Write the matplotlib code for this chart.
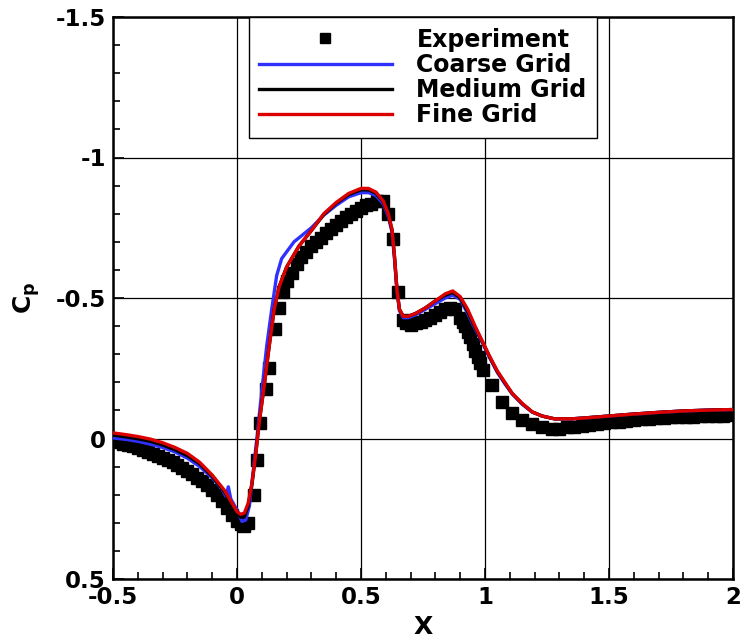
import matplotlib
matplotlib.use("Agg")
import matplotlib.pyplot as plt
from matplotlib.ticker import MultipleLocator

plt.rcParams['font.family'] = ['DejaVu Sans']
plt.rcParams['font.weight'] = 'bold'
plt.rcParams['mathtext.fontset'] = 'dejavusans'

# ---------------- data ----------------
exp_x = [-0.50, -0.48, -0.46, -0.44, -0.42, -0.40, -0.38, -0.36, -0.34, -0.32,
         -0.30, -0.28, -0.26, -0.24, -0.22, -0.20, -0.18, -0.16, -0.14, -0.12,
         -0.10, -0.08, -0.06, -0.04, -0.02, 0.00, 0.015, 0.03, 0.045, 0.07,
         0.08, 0.092, 0.115, 0.13, 0.155, 0.17, 0.185,
         0.20, 0.22, 0.24, 0.26, 0.28, 0.30, 0.32, 0.34, 0.36, 0.38,
         0.40, 0.42, 0.44, 0.46, 0.48, 0.50, 0.52, 0.54, 0.565, 0.59,
         0.61, 0.63, 0.65, 0.668,
         0.68, 0.70, 0.72, 0.74, 0.76, 0.78, 0.80, 0.82, 0.84, 0.86,
         0.88, 0.90, 0.91, 0.92, 0.93, 0.94, 0.95, 0.96, 0.97, 0.98, 0.99,
         1.03, 1.07, 1.11, 1.15, 1.19, 1.23, 1.27, 1.30,
         1.33, 1.36, 1.39, 1.42, 1.45, 1.48, 1.51, 1.54, 1.57, 1.60,
         1.63, 1.66, 1.69, 1.72, 1.75, 1.78, 1.81, 1.84, 1.87, 1.90,
         1.93, 1.96, 1.99]
exp_cp = [0.010, 0.014, 0.018, 0.023, 0.028, 0.034, 0.040, 0.047, 0.054, 0.061,
          0.069, 0.077, 0.085, 0.094, 0.104, 0.115, 0.127, 0.140, 0.153, 0.167,
          0.182, 0.200, 0.222, 0.246, 0.272, 0.295, 0.306, 0.310, 0.300, 0.200,
          0.075, -0.055, -0.175, -0.25, -0.39, -0.466, -0.52,
          -0.56, -0.59, -0.62, -0.645, -0.665, -0.685, -0.70, -0.715, -0.73, -0.745,
          -0.76, -0.775, -0.79, -0.80, -0.81, -0.82, -0.83, -0.835, -0.845, -0.845,
          -0.80, -0.71, -0.52, -0.42,
          -0.41, -0.405, -0.41, -0.415, -0.42, -0.43, -0.44, -0.45, -0.46, -0.465,
          -0.46, -0.43, -0.415, -0.40, -0.38, -0.36, -0.335, -0.31, -0.29, -0.27, -0.245,
          -0.19, -0.13, -0.09, -0.065, -0.05, -0.04, -0.035, -0.035,
          -0.040, -0.042, -0.045, -0.048, -0.051, -0.054, -0.057, -0.060, -0.063, -0.066,
          -0.068, -0.070, -0.072, -0.074, -0.075, -0.076, -0.077, -0.078, -0.079, -0.080,
          -0.080, -0.081, -0.082]

coarse_x = [-0.50, -0.45, -0.40, -0.35, -0.30, -0.25, -0.20, -0.15, -0.10, -0.06,
            -0.045, -0.035, -0.025, 0.00, 0.02, 0.035, 0.05, 0.065, 0.08, 0.10,
            0.12, 0.14, 0.16, 0.18, 0.23, 0.30, 0.35, 0.40, 0.45, 0.50,
            0.53, 0.56, 0.59, 0.61, 0.625, 0.635, 0.645, 0.655, 0.67, 0.69,
            0.72, 0.76, 0.80, 0.84, 0.87, 0.90, 0.93, 0.96, 0.99, 1.02,
            1.05, 1.08, 1.11, 1.15, 1.19, 1.23, 1.28, 1.35, 1.40, 1.50,
            1.60, 1.70, 1.80, 1.90, 2.00]
coarse_cp = [-0.002, 0.003, 0.010, 0.020, 0.032, 0.048, 0.070, 0.100, 0.140, 0.180,
             0.205, 0.172, 0.215, 0.255, 0.295, 0.290, 0.240, 0.120, 0.000, -0.170,
             -0.33, -0.46, -0.58, -0.64, -0.70, -0.75, -0.795, -0.83, -0.86, -0.875,
             -0.875, -0.865, -0.835, -0.79, -0.735, -0.64, -0.525, -0.455, -0.43, -0.43,
             -0.44, -0.46, -0.48, -0.50, -0.51, -0.495, -0.445, -0.39, -0.34, -0.285,
             -0.235, -0.195, -0.158, -0.122, -0.094, -0.08, -0.07, -0.07, -0.073, -0.08,
             -0.087, -0.093, -0.098, -0.101, -0.103]

medium_x = [-0.50, -0.45, -0.40, -0.35, -0.30, -0.25, -0.20, -0.15, -0.10, -0.05,
            -0.02, 0.00, 0.015, 0.03, 0.045, 0.06, 0.075, 0.09, 0.11, 0.13,
            0.15, 0.17, 0.20, 0.25, 0.30, 0.35, 0.40, 0.45, 0.50, 0.53,
            0.56, 0.59, 0.61, 0.625, 0.635, 0.645, 0.655, 0.67, 0.69, 0.72,
            0.76, 0.80, 0.84, 0.87, 0.90, 0.93, 0.96, 0.99, 1.02, 1.05,
            1.08, 1.11, 1.15, 1.19, 1.23, 1.28, 1.35, 1.40, 1.50, 1.60,
            1.70, 1.80, 1.90, 2.00]
medium_cp = [-0.012, -0.006, 0.001, 0.010, 0.023, 0.040, 0.061, 0.090, 0.135, 0.190,
             0.235, 0.265, 0.280, 0.278, 0.240, 0.165, 0.060, -0.060, -0.19, -0.33,
             -0.46, -0.54, -0.61, -0.685, -0.74, -0.797, -0.837, -0.868, -0.885, -0.885,
             -0.873, -0.842, -0.797, -0.742, -0.648, -0.53, -0.46, -0.435, -0.435, -0.445,
             -0.465, -0.49, -0.51, -0.52, -0.50, -0.452, -0.395, -0.343, -0.288, -0.238,
             -0.198, -0.16, -0.124, -0.095, -0.08, -0.07, -0.07, -0.073, -0.08, -0.087,
             -0.093, -0.098, -0.101, -0.103]

fine_x = [-0.50, -0.45, -0.40, -0.35, -0.30, -0.25, -0.20, -0.15, -0.10, -0.05,
          -0.02, 0.00, 0.015, 0.03, 0.045, 0.06, 0.075, 0.09, 0.11, 0.13,
          0.15, 0.17, 0.20, 0.25, 0.30, 0.35, 0.40, 0.45, 0.50, 0.53,
          0.56, 0.59, 0.61, 0.625, 0.635, 0.645, 0.655, 0.67, 0.69, 0.72,
          0.76, 0.80, 0.84, 0.87, 0.90, 0.93, 0.96, 0.99, 1.02, 1.05,
          1.08, 1.11, 1.15, 1.19, 1.23, 1.28, 1.35, 1.40, 1.50, 1.60,
          1.70, 1.80, 1.90, 2.00]
fine_cp = [-0.020, -0.014, -0.007, 0.002, 0.015, 0.032, 0.053, 0.085, 0.130, 0.185,
           0.230, 0.260, 0.270, 0.265, 0.230, 0.160, 0.060, -0.060, -0.19, -0.33,
           -0.46, -0.54, -0.61, -0.685, -0.74, -0.80, -0.84, -0.872, -0.89, -0.89,
           -0.877, -0.845, -0.80, -0.745, -0.65, -0.53, -0.46, -0.435, -0.435, -0.445,
           -0.465, -0.49, -0.515, -0.525, -0.505, -0.46, -0.40, -0.345, -0.29, -0.24,
           -0.20, -0.16, -0.125, -0.095, -0.08, -0.07, -0.07, -0.073, -0.08, -0.087,
           -0.093, -0.098, -0.101, -0.103]

labels = ['Experiment', 'Coarse Grid', 'Medium Grid', 'Fine Grid']
x_ticks = [-0.5, 0, 0.5, 1, 1.5, 2]
x_ticklabels = ['-0.5', '0', '0.5', '1', '1.5', '2']
y_ticks = [-1.5, -1, -0.5, 0, 0.5]
y_ticklabels = ['-1.5', '-1', '-0.5', '0', '0.5']

# ---------------- plot ----------------
fig = plt.figure(figsize=(7.4, 6.41), dpi=100)
ax = fig.add_axes([113/740, 1 - 579/641, 620/740, 562/641])

ax.plot(exp_x, exp_cp, linestyle='none', marker='s', markersize=8.2,
        color='black', label=labels[0], zorder=3)
ax.plot(coarse_x, coarse_cp, color='#3030ff', lw=2.4, label=labels[1], zorder=4)
ax.plot(medium_x, medium_cp, color='black', lw=2.4, label=labels[2], zorder=5)
ax.plot(fine_x, fine_cp, color='#dd0000', lw=2.4, label=labels[3], zorder=6)

ax.set_xlim(-0.5, 2)
ax.set_ylim(0.5, -1.5)
ax.set_xticks(x_ticks)
ax.set_xticklabels(x_ticklabels)
ax.set_yticks(y_ticks)
ax.set_yticklabels(y_ticklabels)
ax.xaxis.set_minor_locator(MultipleLocator(0.1))
ax.yaxis.set_minor_locator(MultipleLocator(0.1))
ax.tick_params(which='both', direction='in', top=False, right=False,
               labelsize=16.5, width=1.2)
ax.tick_params(axis='y', pad=5)
ax.tick_params(axis='x', pad=5)
ax.tick_params(which='major', length=8)
ax.tick_params(which='minor', length=5)
for lab in ax.get_xticklabels() + ax.get_yticklabels():
    lab.set_fontweight('bold')
ax.grid(True, which='major', color='black', lw=0.9)
for s in ax.spines.values():
    s.set_linewidth(1.8)

ax.set_xlabel('X', fontsize=18, fontweight='bold', labelpad=4)
ax.set_ylabel(r'$\mathbf{C_p}$', fontsize=18, labelpad=10)

leg = ax.legend(loc='upper center', bbox_to_anchor=(0.5, 1.0), borderaxespad=0,
                frameon=True, fancybox=False, edgecolor='black', framealpha=1,
                fontsize=17, handlelength=5.6, handletextpad=1.05,
                labelspacing=0.05, borderpad=0.45, markerscale=0.8)
leg.get_frame().set_linewidth(1.0)
leg.set_zorder(10)
for t in leg.get_texts():
    t.set_fontweight('bold')

fig.savefig('out.png', dpi=100)
